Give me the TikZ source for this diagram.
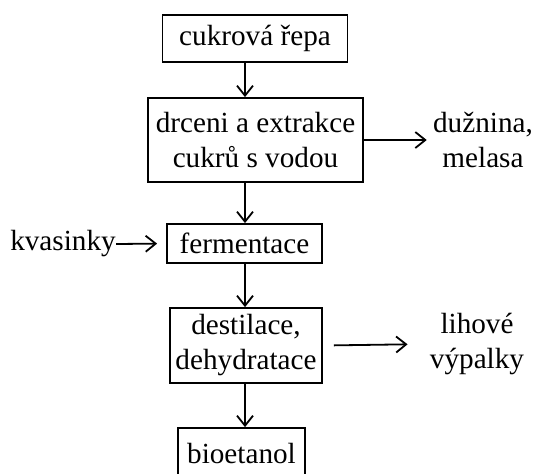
\documentclass[tikz,border=0pt]{standalone}
\usepackage{fontspec}
\setmainfont{Liberation Serif}
\usetikzlibrary{arrows.meta,positioning}

\begin{document}
\begin{tikzpicture}[x=0.5pt, y=-0.5pt,
  font=\fontsize{14.6}{17.5}\selectfont,
  box/.style={draw, rectangle, line width=0.9pt, inner sep=0pt, align=center},
  lbl/.style={draw=none, inner sep=0pt, align=center},
  flow/.style={-{Straight Barb[length=5pt,width=8pt]}, line width=0.9pt}]

\clip (0,0) rectangle (533,473);

% Process steps
\node[box, minimum width=92.5pt, minimum height=23.5pt] (repa) at (255,38.5) {cukrová řepa};
\node[box, minimum width=107.5pt, minimum height=42pt] (drceni) at (255.5,140) {drceni a extrakce\\cukrů s vodou};
\node[box, minimum width=77.5pt, minimum height=19.5pt] (ferm) at (244.5,243.5) {fermentace};
\node[box, minimum width=76pt, minimum height=37.5pt] (destil) at (246,345.5) {destilace,\\dehydratace};
\node[box, minimum width=63.5pt, minimum height=25pt] (bio) at (241.5,453) {bioetanol};

% Inputs and by-products
\node[lbl] (kvasinky) at (63,244) {kvasinky};
\node[lbl] (duznina) at (483,140) {dužnina,\\melasa};
\node[lbl] (lihove) at (477,344) {lihové\\výpalky};

% Main line
\coordinate (spine) at (245,0);
\draw[flow] (repa.south -| spine) -- (drceni.north -| spine);
\draw[flow] (drceni.south -| spine) -- (ferm.north -| spine);
\draw[flow] (ferm.south -| spine) -- (destil.north -| spine);
\draw[flow] (destil.south -| spine) -- (bio.north -| spine);

% Side arrows
\draw[flow, shorten >=4.5pt] (kvasinky.east) -- (ferm.west);
\draw[flow, shorten >=3pt] (drceni.east) -- (duznina.west);
\draw[flow, shorten <=5.5pt, shorten >=11pt] (destil.east) -- (lihove.west);

\end{tikzpicture}
\end{document}
